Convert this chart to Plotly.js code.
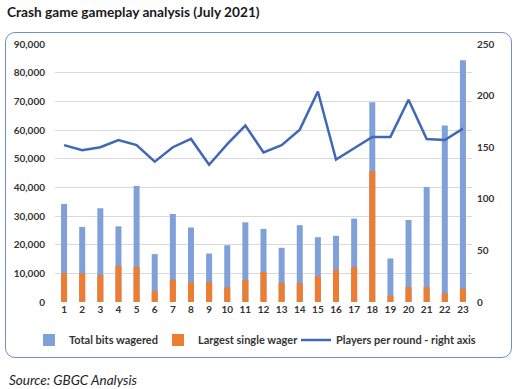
<!DOCTYPE html>
<html>
<head>
<meta charset="utf-8">
<script src="https://cdn.plot.ly/plotly-3.0.1.min.js"></script>
<style>
html,body{margin:0;padding:0;background:#fff;}
#wrap{position:relative;width:519px;height:389px;}
#chart{width:519px;height:389px;}
#frame{position:absolute;left:5px;top:32px;width:505px;height:324px;border:1.5px solid #6F8FC9;border-radius:10px;pointer-events:none;}
</style>
</head>
<body>
<div id="wrap"><div id="chart"></div><div id="frame"></div></div>
<script>
const rounds = [1,2,3,4,5,6,7,8,9,10,11,12,13,14,15,16,17,18,19,20,21,22,23];
const totalBits = [34200,26200,32700,26400,40500,16700,30700,26000,16900,19800,27800,25500,18900,26800,22600,23100,29100,69700,15200,28600,40100,61600,84300];
const largestWager = [10100,9900,9400,12600,12200,3800,7800,6800,7000,5100,7700,10500,6600,6600,9000,11200,12200,45700,2200,5200,5200,3000,4700];
const players = [152,147,150,157,152,136,150,158,133,153,171,145,152,167,204,138,149,160,160,196,158,157,168];
const tickLabels = rounds.map(String);

const font = "Lato, 'Open Sans', sans-serif";
const data = [
  {type:'bar', x:rounds, y:totalBits, name:'Total bits wagered', marker:{color:'#7FA0D8'}, yaxis:'y', legend:'legend'},
  {type:'bar', x:rounds, y:largestWager, name:'Largest single wager', marker:{color:'#ED7D31'}, yaxis:'y', legend:'legend2'},
  {type:'scatter', mode:'lines', x:rounds, y:players, name:'Players per round - right axis', line:{color:'#4068B4', width:2.5}, yaxis:'y2', legend:'legend3'}
];
const legFont = {family:font, size:11, color:'#333', weight:'bold'};
const legY = (302-340)/258;
function leg(px){ return {orientation:'h', x:(px-55)/417, xanchor:'left', y:legY, yanchor:'middle', font:legFont, itemwidth:30, bgcolor:'rgba(0,0,0,0)'}; }
const layout = {
  width:519, height:389,
  margin:{l:55, r:47, t:44, b:87},
  paper_bgcolor:'#fff', plot_bgcolor:'#fff',
  barmode:'overlay', bargap:0.67,
  showlegend:true,
  font:{family:font, color:'#333', size:10},
  title:{text:'<b>Crash game gameplay analysis (July 2021)</b>', x:7/519, xanchor:'left', xref:'container', y:0.968, yanchor:'middle', yref:'container', font:{family:font, size:13.7, color:'#1a1a1a'}},
  xaxis:{range:[0.5,23.5], tickvals:rounds, ticktext:tickLabels, showgrid:false, zeroline:false, showline:false, ticks:'', tickfont:{family:font, size:10, color:'#333', weight:'bold'}},
  yaxis:{range:[0,90000], dtick:10000, tickformat:',', showgrid:true, gridcolor:'#D9D9D9', gridwidth:1, zeroline:false, showline:false, ticks:'', tickfont:{family:font, size:10, color:'#333', weight:'bold'}, ticklabelstandoff:9},
  yaxis2:{range:[0,250], dtick:50, overlaying:'y', side:'right', showgrid:false, zeroline:false, showline:false, ticks:'', tickfont:{family:font, size:10, color:'#333', weight:'bold'}, ticklabelstandoff:4},
  legend:leg(29),
  legend2:leg(158),
  legend3:leg(296),
  annotations:[{text:'<i>Source: GBGC Analysis</i>', xref:'paper', yref:'paper', x:(7-55)/417, y:(302-380)/258, xanchor:'left', yanchor:'middle', showarrow:false, font:{family:font, size:13.5, color:'#222'}}]
};
Plotly.newPlot('chart', data, layout, {displayModeBar:false, staticPlot:true});
</script>
</body>
</html>
